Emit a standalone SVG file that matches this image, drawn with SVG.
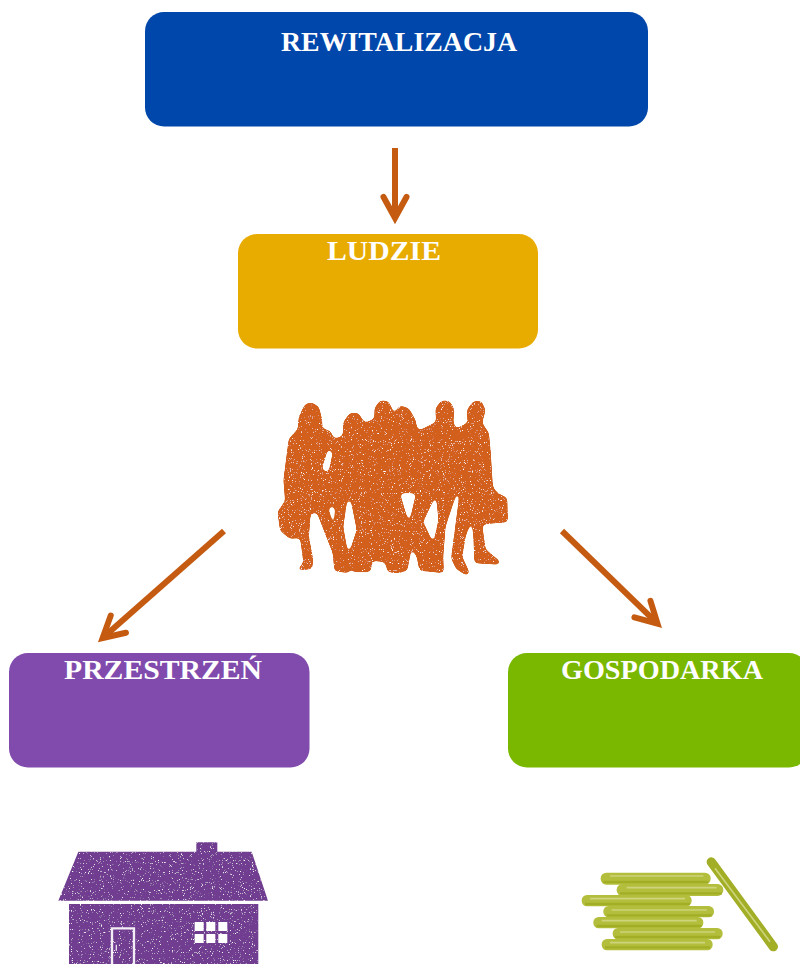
<svg xmlns="http://www.w3.org/2000/svg" width="800" height="964" viewBox="0 0 800 964">
<style>
.t{font-family:"Liberation Serif","Times New Roman",serif;font-weight:bold;font-size:27.8px;fill:#fff;text-anchor:middle}
.c{fill:none;stroke:#C55A11;stroke-width:6;stroke-linecap:butt}
.coin{fill:#B3BE3C}
.edge{fill:none;stroke:#A2AE26;stroke-width:7}
.sh{fill:none;stroke:#CDD47C;stroke-width:5}
</style>
<defs>
<marker id="head" markerUnits="userSpaceOnUse" viewBox="-32 -16 44 32" refX="0" refY="0" markerWidth="44" markerHeight="32" orient="auto" overflow="visible">
<path d="M-21,-11.500 L0,0 L-21,11.500" fill="#C55A11" fill-opacity="0.001" stroke="#C55A11" stroke-width="6" stroke-linecap="round" stroke-linejoin="miter"/>
</marker>
<filter id="grain" x="-5%" y="-5%" width="110%" height="110%">
<feTurbulence type="fractalNoise" baseFrequency="0.3" numOctaves="2" seed="4" result="n"/>
<feColorMatrix in="n" type="matrix" values="0 0 0 0 1  0 0 0 0 1  0 0 0 0 1  0 0 0 -6 2.1" result="m"/>
<feComposite in="m" in2="SourceAlpha" operator="in" result="s"/>
<feMerge result="o"><feMergeNode in="SourceGraphic"/><feMergeNode in="s"/></feMerge>
<feGaussianBlur in="o" stdDeviation="0.9"/>
</filter>
<filter id="peopleFx" x="-5%" y="-5%" width="110%" height="110%">
<feGaussianBlur in="SourceGraphic" stdDeviation="6"/>
<feComponentTransfer result="shape"><feFuncA type="linear" slope="10" intercept="-4.500"/></feComponentTransfer>
<feTurbulence type="fractalNoise" baseFrequency="0.3" numOctaves="2" seed="9" result="n"/>
<feColorMatrix in="n" type="matrix" values="0 0 0 0 1  0 0 0 0 1  0 0 0 0 1  0 0 0 -6 2.1" result="m"/>
<feComposite in="m" in2="shape" operator="in" result="s"/>
<feMerge result="o"><feMergeNode in="shape"/><feMergeNode in="s"/></feMerge>
<feGaussianBlur in="o" stdDeviation="1.2"/>
</filter>
<filter id="soft" x="-5%" y="-5%" width="110%" height="110%"><feGaussianBlur stdDeviation="2"/></filter>
</defs>
<rect width="800" height="964" fill="#fff"/>
<g id="connectors">
<path class="c" d="M395,148V218" marker-end="url(#head)"/>
<path class="c" d="M224,531L102.600,638" marker-end="url(#head)"/>
<path class="c" d="M562,531L657.500,623.700" marker-end="url(#head)"/>
</g>
<g id="rewitalizacja"><rect x="145" y="12" width="503" height="114.500" rx="19" fill="#0047AB"/><text class="t" x="399" y="50.500" textLength="236" lengthAdjust="spacingAndGlyphs">REWITALIZACJA</text></g>
<g id="ludzie"><rect x="238" y="234" width="300" height="114.500" rx="19" fill="#E8AB00"/><text class="t" x="384" y="259.500" textLength="114" lengthAdjust="spacingAndGlyphs">LUDZIE</text></g>
<g id="przestrzen"><rect x="9" y="653" width="300.500" height="114.500" rx="19" fill="#804BAD"/><text class="t" x="163" y="678.500" textLength="198" lengthAdjust="spacingAndGlyphs">PRZESTRZEŃ</text></g>
<g id="gospodarka"><rect x="508" y="653" width="300" height="114.500" rx="19" fill="#7AB800"/><text class="t" x="662" y="678.500" textLength="202" lengthAdjust="spacingAndGlyphs">GOSPODARKA</text></g>
<g id="people" transform="translate(260 380) scale(.3333)">
<g filter="url(#peopleFx)" fill="#D2601A">
<path fill-rule="evenodd" d="M108,572L130,548L125,510L120,474L90,477L60,452L52,395L75,363L70,300L86,176L113,148L116,110L135,72L155,67L177,80L187,120L187,145L212,153L222,176L248,168L250,125L270,98L295,98L314,128L343,116L343,85L360,61L385,63L399,90L394,128L398,138L398,105L420,76L447,85L467,120L472,146L480,150L528,126L526,85L545,61L570,63L584,90L580,123L587,146L623,128L620,90L640,63L665,63L677,90L667,130L687,158L692,210L699,320L712,338L742,353L744,427L680,432L667,435L677,508L722,545L717,554L643,550L640,470L635,420L617,470L607,530L630,580L620,587L588,567L573,535L598,345L590,340L557,440L550,530L552,580L478,572L470,530L455,505L442,572L415,580L383,577L375,547L337,542L332,577L278,577L270,545L274,555L267,580L223,574L218,520L170,397L152,402L147,470L160,540L157,567ZM205,205L185,268L205,278L218,218ZM262,360L250,440L265,525L290,450L272,360ZM420,340L447,430L468,340ZM528,345L490,425L520,490L535,420ZM205,380L222,450L225,380Z"/>
</g>
</g>
<g id="house" transform="translate(40 830) scale(.3333)">
<g filter="url(#grain)" fill="#6F3E91">
<path d="M115,65H469V37H532V65H635L684,212H55Z"/>
<path d="M87,222H655V402H87Z"/>
</g>
<path d="M216,402V295H282V402" fill="none" stroke="#F3EEF6" stroke-width="7"/>
<path d="M229,344V362" stroke="#E5DCEC" stroke-width="4"/>
<path fill="#fff" d="M464,276h27v27h-27zM499,276h27v27h-27zM535,276h27v27h-27zM464,312h27v27h-27zM499,312h27v27h-27zM535,312h27v27h-27z"/>
</g>
<g id="coins" transform="translate(570 840) scale(.3333)" filter="url(#soft)">
<rect class="coin" x="92" y="98" width="330" height="36" rx="17"/>
<rect class="coin" x="140" y="132" width="320" height="36" rx="17"/>
<rect class="coin" x="35" y="165" width="330" height="34" rx="16"/>
<rect class="coin" x="100" y="198" width="332" height="34" rx="16"/>
<rect class="coin" x="70" y="231" width="330" height="34" rx="16"/>
<rect class="coin" x="128" y="264" width="330" height="34" rx="16"/>
<rect class="coin" x="95" y="297" width="333" height="34" rx="16"/>
<path d="M424,66L610,320" fill="none" stroke="#A2AE26" stroke-width="28" stroke-linecap="round"/>
<path class="edge" d="M100,126H415M150,160H455M45,192H360M110,226H425M80,258H395M135,291H450M105,322H420"/>
<path class="sh" d="M120,108H400M170,143H440M60,176H345M125,210H410M95,242H380M150,276H435M120,308H405M435,85L600,305"/>
</g>
</svg>
